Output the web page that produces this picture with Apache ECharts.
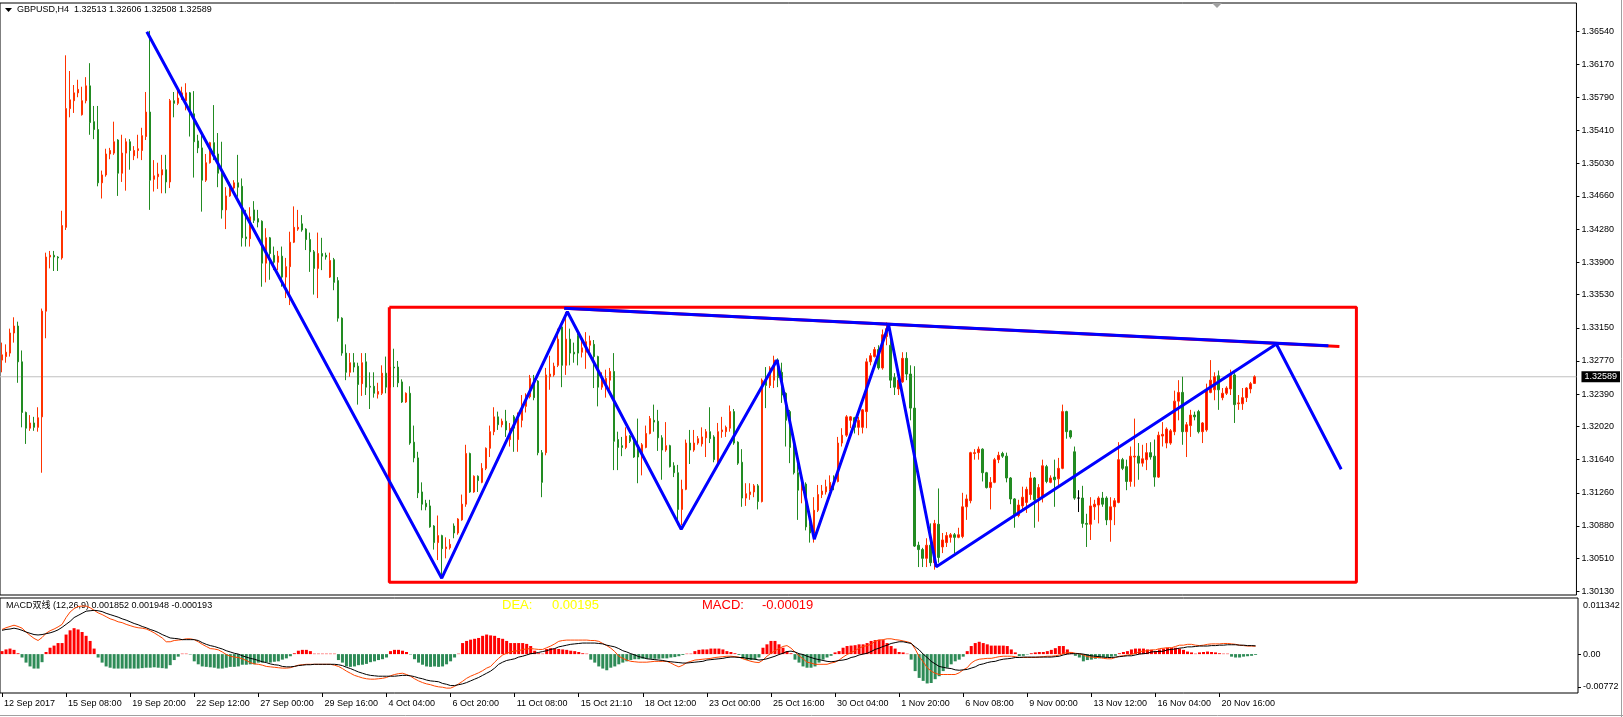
<!DOCTYPE html>
<html><head><meta charset="utf-8">
<script src="https://cdn.jsdelivr.net/npm/echarts@6/dist/echarts.min.js"></script>
<style>html,body{margin:0;padding:0;background:#fff}#c{width:1623px;height:717px}</style>
</head><body><div id="c"></div>
<script>
// ---------- DATA ----------
const symbol = 'GBPUSD,H4';
const openP = [
1.3278,1.3282,1.3286,1.3309,1.3317,1.3276,1.3218,1.3200,1.3206,1.3201,
1.3213,1.3334,1.3396,1.3398,1.3396,1.3395,1.3430,1.3566,1.3575,1.3584,
1.3559,1.3575,1.3592,1.3551,1.3542,1.3481,1.3490,1.3514,1.3515,1.3530,
1.3492,1.3515,1.3528,1.3512,1.3518,1.3518,1.3534,1.3562,1.3485,1.3488,
1.3490,1.3496,1.3482,1.3575,1.3572,1.3578,1.3575,1.3584,1.3560,1.3529,
1.3521,1.3484,1.3504,1.3527,1.3514,1.3492,1.3450,1.3466,1.3475,1.3481,
1.3477,1.3419,1.3417,1.3450,1.3440,1.3437,1.3389,1.3418,1.3398,1.3390,
1.3397,1.3373,1.3385,1.3413,1.3428,1.3434,1.3428,1.3416,1.3402,1.3383,
1.3400,1.3398,1.3373,1.3393,1.3369,1.3326,1.3286,1.3264,1.3275,1.3271,
1.3251,1.3276,1.3248,1.3248,1.3239,1.3240,1.3263,1.3247,1.3270,1.3270,
1.3253,1.3230,1.3240,1.3184,1.3166,1.3127,1.3114,1.3111,1.3088,1.3069,
1.3077,1.3062,1.3063,1.3088,1.3080,1.3095,1.3113,1.3171,1.3127,1.3145,
1.3138,1.3154,1.3177,1.3196,1.3213,1.3204,1.3208,1.3187,1.3213,1.3187,
1.3209,1.3225,1.3236,1.3257,1.3254,1.3172,1.3172,1.3259,1.3261,1.3272,
1.3316,1.3272,1.3302,1.3287,1.3306,1.3287,1.3287,1.3295,1.3296,1.3282,
1.3247,1.3247,1.3255,1.3265,1.3187,1.3180,1.3178,1.3191,1.3185,1.3178,
1.3167,1.3178,1.3194,1.3209,1.3208,1.3189,1.3175,1.3180,1.3157,1.3149,
1.3107,1.3130,1.3183,1.3175,1.3183,1.3182,1.3189,1.3196,1.3190,1.3161,
1.3196,1.3196,1.3200,1.3219,1.3184,1.3161,1.3120,1.3124,1.3127,1.3134,
1.3116,1.3255,1.3249,1.3255,1.3278,1.3264,1.3240,1.3219,1.3187,1.3149,
1.3129,1.3136,1.3087,1.3080,1.3106,1.3124,1.3127,1.3130,1.3144,1.3139,
1.3183,1.3192,1.3209,1.3212,1.3201,1.3201,1.3219,1.3276,1.3282,1.3290,
1.3269,1.3305,1.3295,1.3258,1.3245,1.3253,1.3280,1.3262,1.3223,1.3066,
1.3061,1.3051,1.3066,1.3046,1.3090,1.3064,1.3069,1.3075,1.3078,1.3075,
1.3076,1.3110,1.3117,1.3171,1.3172,1.3176,1.3149,1.3132,1.3138,1.3164,
1.3171,1.3168,1.3143,1.3119,1.3100,1.3111,1.3115,1.3124,1.3143,1.3120,
1.3121,1.3156,1.3138,1.3144,1.3142,1.3154,1.3219,1.3197,1.3173,1.3120,
1.3120,1.3091,1.3090,1.3110,1.3112,1.3120,1.3120,1.3095,1.3110,1.3115,
1.3164,1.3156,1.3139,1.3167,1.3168,1.3160,1.3164,1.3172,1.3168,1.3144,
1.3191,1.3183,1.3183,1.3196,1.3231,1.3241,1.3196,1.3203,1.3215,1.3219,
1.3196,1.3198,1.3241,1.3244,1.3260,1.3235,1.3240,1.3245,1.3261,1.3228,
1.3228,1.3235,1.3245,1.32513];
const highP = [
1.3298,1.3296,1.3314,1.3327,1.3322,1.3289,1.3219,1.3215,1.3213,1.3224,
1.3337,1.3401,1.3403,1.3403,1.3397,1.3449,1.3627,1.3609,1.3593,1.3599,
1.3591,1.3602,1.3618,1.3569,1.3569,1.3495,1.3520,1.3521,1.3551,1.3531,
1.3536,1.3532,1.3531,1.3523,1.3536,1.3544,1.3585,1.3655,1.3507,1.3504,
1.3513,1.3513,1.3577,1.3585,1.3587,1.3591,1.3595,1.3585,1.3586,1.3536,
1.3537,1.3514,1.3528,1.3570,1.3538,1.3528,1.3476,1.3482,1.3484,1.3513,
1.3486,1.3450,1.3453,1.3460,1.3450,1.3438,1.3429,1.3419,1.3408,1.3403,
1.3408,1.3395,1.3425,1.3454,1.3450,1.3444,1.3429,1.3424,1.3404,1.3424,
1.3418,1.3401,1.3401,1.3395,1.3373,1.3327,1.3296,1.3286,1.3286,1.3275,
1.3286,1.3286,1.3264,1.3264,1.3252,1.3272,1.3282,1.3286,1.3291,1.3277,
1.3256,1.3241,1.3248,1.3203,1.3173,1.3138,1.3118,1.3118,1.3089,1.3100,
1.3078,1.3075,1.3073,1.3091,1.3097,1.3124,1.3181,1.3172,1.3146,1.3146,
1.3160,1.3178,1.3203,1.3224,1.3219,1.3211,1.3221,1.3206,1.3215,1.3218,
1.3238,1.3240,1.3261,1.3261,1.3255,1.3175,1.3269,1.3283,1.3275,1.3314,
1.3322,1.3333,1.3314,1.3298,1.3309,1.3302,1.3310,1.3306,1.3301,1.3283,
1.3264,1.3267,1.3269,1.3286,1.3196,1.3190,1.3201,1.3192,1.3187,1.3211,
1.3183,1.3203,1.3214,1.3227,1.3221,1.3192,1.3207,1.3181,1.3161,1.3158,
1.3141,1.3187,1.3198,1.3198,1.3191,1.3201,1.3199,1.3224,1.3192,1.3206,
1.3213,1.3203,1.3226,1.3222,1.3185,1.3176,1.3137,1.3137,1.3136,1.3136,
1.3257,1.3270,1.3271,1.3283,1.3280,1.3275,1.3241,1.3221,1.3189,1.3170,
1.3141,1.3138,1.3093,1.3121,1.3135,1.3135,1.3141,1.3146,1.3146,1.3190,
1.3200,1.3215,1.3214,1.3213,1.3213,1.3222,1.3280,1.3286,1.3293,1.3295,
1.3313,1.3321,1.3304,1.3263,1.3259,1.3287,1.3287,1.3272,1.3271,1.3070,
1.3063,1.3074,1.3091,1.3095,1.3131,1.3080,1.3081,1.3080,1.3080,1.3086,
1.3126,1.3124,1.3173,1.3176,1.3179,1.3177,1.3150,1.3144,1.3166,1.3173,
1.3173,1.3172,1.3144,1.3120,1.3118,1.3133,1.3133,1.3150,1.3144,1.3136,
1.3164,1.3158,1.3146,1.3164,1.3166,1.3227,1.3220,1.3198,1.3179,1.3129,
1.3134,1.3102,1.3121,1.3118,1.3122,1.3127,1.3122,1.3121,1.3120,1.3184,
1.3166,1.3164,1.3179,1.3211,1.3183,1.3181,1.3183,1.3184,1.3187,1.3196,
1.3207,1.3201,1.3199,1.3243,1.3255,1.3259,1.3207,1.3221,1.3219,1.3221,
1.3207,1.3251,1.3278,1.3264,1.3266,1.3246,1.3248,1.3267,1.3263,1.3238,
1.3246,1.3247,1.3253,1.32606];
const lowP = [
1.3264,1.3275,1.3282,1.3298,1.3252,1.3201,1.3182,1.3197,1.3197,1.3196,
1.3149,1.3303,1.3383,1.3380,1.3380,1.3393,1.3427,1.3556,1.3561,1.3579,
1.3558,1.3572,1.3536,1.3531,1.3477,1.3463,1.3488,1.3508,1.3513,1.3466,
1.3482,1.3472,1.3496,1.3507,1.3509,1.3507,1.3530,1.3450,1.3471,1.3474,
1.3469,1.3469,1.3475,1.3556,1.3570,1.3576,1.3564,1.3534,1.3487,1.3515,
1.3448,1.3482,1.3503,1.3507,1.3476,1.3440,1.3428,1.3465,1.3473,1.3465,
1.3408,1.3408,1.3408,1.3435,1.3430,1.3362,1.3367,1.3370,1.3381,1.3381,
1.3362,1.3349,1.3341,1.3412,1.3426,1.3425,1.3404,1.3379,1.3353,1.3349,
1.3381,1.3393,1.3372,1.3358,1.3322,1.3283,1.3255,1.3259,1.3264,1.3227,
1.3237,1.3238,1.3222,1.3235,1.3234,1.3238,1.3240,1.3246,1.3247,1.3247,
1.3229,1.3229,1.3181,1.3161,1.3120,1.3106,1.3106,1.3086,1.3061,1.3049,
1.3029,1.3051,1.3061,1.3074,1.3078,1.3094,1.3110,1.3126,1.3126,1.3127,
1.3137,1.3152,1.3167,1.3192,1.3198,1.3201,1.3190,1.3179,1.3173,1.3173,
1.3201,1.3218,1.3234,1.3232,1.3169,1.3121,1.3169,1.3244,1.3259,1.3270,
1.3247,1.3261,1.3272,1.3275,1.3272,1.3281,1.3268,1.3287,1.3246,1.3225,
1.3244,1.3235,1.3244,1.3152,1.3152,1.3168,1.3176,1.3183,1.3166,1.3137,
1.3146,1.3177,1.3193,1.3196,1.3174,1.3141,1.3173,1.3155,1.3144,1.3089,
1.3089,1.3129,1.3159,1.3173,1.3181,1.3179,1.3167,1.3183,1.3161,1.3160,
1.3189,1.3190,1.3196,1.3181,1.3158,1.3110,1.3111,1.3118,1.3121,1.3107,
1.3115,1.3223,1.3246,1.3246,1.3247,1.3229,1.3179,1.3160,1.3147,1.3095,
1.3114,1.3083,1.3069,1.3069,1.3104,1.3120,1.3124,1.3128,1.3129,1.3138,
1.3179,1.3190,1.3200,1.3194,1.3192,1.3194,1.3200,1.3272,1.3281,1.3267,
1.3267,1.3295,1.3246,1.3238,1.3238,1.3252,1.3255,1.3209,1.3064,1.3041,
1.3041,1.3041,1.3042,1.3038,1.3046,1.3057,1.3064,1.3069,1.3057,1.3074,
1.3074,1.3095,1.3114,1.3164,1.3164,1.3139,1.3131,1.3107,1.3137,1.3160,
1.3166,1.3138,1.3113,1.3086,1.3098,1.3106,1.3103,1.3118,1.3086,1.3093,
1.3115,1.3137,1.3137,1.3110,1.3132,1.3153,1.3188,1.3188,1.3118,1.3104,
1.3086,1.3064,1.3072,1.3095,1.3091,1.3110,1.3089,1.3070,1.3089,1.3114,
1.3152,1.3129,1.3133,1.3133,1.3141,1.3156,1.3152,1.3164,1.3133,1.3143,
1.3179,1.3177,1.3181,1.3192,1.3209,1.3181,1.3167,1.3190,1.3209,1.3194,
1.3183,1.3196,1.3240,1.3232,1.3221,1.3232,1.3238,1.3238,1.3206,1.3221,
1.3221,1.3230,1.3240,1.32508];
const closeP = [
1.3284,1.3287,1.3309,1.3317,1.3276,1.3218,1.3200,1.3206,1.3201,1.3212,
1.3334,1.3396,1.3398,1.3396,1.3395,1.3432,1.3566,1.3576,1.3584,1.3588,
1.3575,1.3592,1.3550,1.3542,1.3481,1.3490,1.3514,1.3518,1.3528,1.3492,
1.3515,1.3528,1.3518,1.3518,1.3520,1.3535,1.3562,1.3484,1.3489,1.3491,
1.3496,1.3482,1.3575,1.3572,1.3578,1.3584,1.3584,1.3560,1.3528,1.3521,
1.3484,1.3504,1.3527,1.3514,1.3492,1.3450,1.3466,1.3475,1.3481,1.3476,
1.3418,1.3417,1.3442,1.3438,1.3436,1.3389,1.3418,1.3400,1.3390,1.3397,
1.3373,1.3385,1.3413,1.3430,1.3430,1.3427,1.3416,1.3402,1.3383,1.3400,
1.3397,1.3396,1.3392,1.3367,1.3326,1.3286,1.3264,1.3275,1.3270,1.3250,
1.3275,1.3247,1.3247,1.3240,1.3242,1.3263,1.3247,1.3270,1.3269,1.3252,
1.3230,1.3240,1.3183,1.3166,1.3126,1.3113,1.3110,1.3087,1.3069,1.3077,
1.3062,1.3064,1.3067,1.3080,1.3096,1.3113,1.3171,1.3127,1.3145,1.3140,
1.3154,1.3177,1.3196,1.3213,1.3204,1.3208,1.3198,1.3200,1.3200,1.3211,
1.3227,1.3238,1.3257,1.3235,1.3172,1.3138,1.3261,1.3262,1.3271,1.3302,
1.3272,1.3302,1.3286,1.3285,1.3286,1.3292,1.3299,1.3300,1.3282,1.3247,
1.3258,1.3257,1.3265,1.3185,1.3178,1.3178,1.3191,1.3185,1.3167,1.3167,
1.3181,1.3194,1.3211,1.3207,1.3189,1.3175,1.3180,1.3156,1.3149,1.3107,
1.3130,1.3183,1.3175,1.3183,1.3188,1.3190,1.3196,1.3188,1.3164,1.3196,
1.3198,1.3201,1.3219,1.3183,1.3160,1.3120,1.3125,1.3127,1.3134,1.3116,
1.3255,1.3249,1.3269,1.3278,1.3258,1.3238,1.3209,1.3178,1.3149,1.3129,
1.3136,1.3087,1.3080,1.3106,1.3124,1.3128,1.3133,1.3138,1.3138,1.3183,
1.3192,1.3213,1.3213,1.3201,1.3209,1.3221,1.3276,1.3283,1.3290,1.3269,
1.3307,1.3314,1.3255,1.3247,1.3255,1.3280,1.3262,1.3223,1.3065,1.3061,
1.3051,1.3066,1.3046,1.3091,1.3052,1.3072,1.3077,1.3078,1.3075,1.3078,
1.3110,1.3119,1.3172,1.3172,1.3176,1.3149,1.3132,1.3138,1.3164,1.3169,
1.3168,1.3143,1.3119,1.3100,1.3112,1.3121,1.3130,1.3143,1.3118,1.3132,
1.3157,1.3139,1.3143,1.3141,1.3154,1.3219,1.3196,1.3190,1.3120,1.3120,
1.3091,1.3090,1.3111,1.3113,1.3120,1.3113,1.3095,1.3110,1.3117,1.3164,
1.3154,1.3139,1.3168,1.3168,1.3160,1.3165,1.3172,1.3167,1.3144,1.3192,
1.3193,1.3199,1.3197,1.3231,1.3241,1.3196,1.3204,1.3215,1.3213,1.3196,
1.3206,1.3244,1.3255,1.3259,1.3244,1.3240,1.3246,1.3261,1.3227,1.3229,
1.3235,1.3246,1.3251,1.32589];

const macdDif = [
0.0058,0.0062,0.0065,0.0068,0.0065,0.0061,0.0052,0.0044,0.0037,0.0032,
0.0039,0.0049,0.0055,0.0059,0.0064,0.0070,0.0086,0.0099,0.0107,0.0112,
0.0113,0.0113,0.0109,0.0103,0.0097,0.0093,0.0088,0.0083,0.0080,0.0076,
0.0074,0.0070,0.0067,0.0064,0.0062,0.0061,0.0059,0.0055,0.0050,0.0044,
0.0038,0.0029,0.0029,0.0032,0.0033,0.0034,0.0036,0.0036,0.0034,0.0029,
0.0023,0.0018,0.0013,0.0012,0.0010,0.0005,-0.0001,-0.0005,-0.0007,-0.0008,
-0.0011,-0.0015,-0.0020,-0.0023,-0.0024,-0.0026,-0.0029,-0.0030,-0.0031,-0.0032,
-0.0033,-0.0033,-0.0032,-0.0029,-0.0026,-0.0025,-0.0024,-0.0024,-0.0024,-0.0024,
-0.0024,-0.0024,-0.0024,-0.0026,-0.0029,-0.0034,-0.0040,-0.0045,-0.0050,-0.0053,
-0.0056,-0.0058,-0.0059,-0.0059,-0.0058,-0.0057,-0.0055,-0.0051,-0.0048,-0.0046,
-0.0045,-0.0048,-0.0052,-0.0058,-0.0063,-0.0067,-0.0070,-0.0072,-0.0075,-0.0077,
-0.0078,-0.0080,-0.0080,-0.0076,-0.0070,-0.0064,-0.0057,-0.0052,-0.0048,-0.0044,
-0.0039,-0.0033,-0.0029,-0.0019,-0.0010,-0.0002,0.0002,0.0005,0.0007,0.0008,
0.0011,0.0012,0.0013,0.0012,0.0011,0.0011,0.0015,0.0019,0.0024,0.0030,
0.0032,0.0033,0.0033,0.0033,0.0033,0.0033,0.0033,0.0032,0.0032,0.0030,
0.0025,0.0020,0.0014,0.0006,-0.0005,-0.0010,-0.0014,-0.0017,-0.0018,-0.0019,
-0.0019,-0.0019,-0.0018,-0.0017,-0.0017,-0.0017,-0.0017,-0.0021,-0.0026,-0.0030,
-0.0026,-0.0020,-0.0017,-0.0014,-0.0013,-0.0012,-0.0011,-0.0010,-0.0008,-0.0007,
-0.0006,-0.0005,-0.0005,-0.0006,-0.0007,-0.0011,-0.0014,-0.0017,-0.0019,-0.0020,
-0.0014,-0.0005,0.0002,0.0008,0.0013,0.0018,0.0020,0.0014,0.0005,-0.0004,
-0.0011,-0.0019,-0.0021,-0.0024,-0.0024,-0.0024,-0.0024,-0.0021,-0.0019,-0.0014,
-0.0007,-0.0001,0.0004,0.0008,0.0014,0.0018,0.0020,0.0023,0.0030,0.0033,
0.0034,0.0036,0.0036,0.0034,0.0033,0.0031,0.0029,0.0026,0.0012,-0.0006,
-0.0018,-0.0032,-0.0040,-0.0045,-0.0048,-0.0048,-0.0048,-0.0048,-0.0048,-0.0044,
-0.0037,-0.0032,-0.0021,-0.0015,-0.0012,-0.0011,-0.0010,-0.0010,-0.0008,-0.0006,
-0.0005,-0.0005,-0.0005,-0.0006,-0.0008,-0.0008,-0.0008,-0.0008,-0.0008,-0.0007,
-0.0006,-0.0005,-0.0005,-0.0004,-0.0002,0.0001,0.0004,0.0004,0.0002,0.0001,
-0.0002,-0.0006,-0.0007,-0.0008,-0.0008,-0.0010,-0.0011,-0.0011,-0.0008,-0.0005,
-0.0004,-0.0002,-0.0001,0.0002,0.0006,0.0007,0.0008,0.0010,0.0010,0.0013,
0.0014,0.0015,0.0015,0.0018,0.0021,0.0021,0.0023,0.0023,0.0021,0.0020,
0.0021,0.0023,0.0024,0.0024,0.0024,0.0025,0.0025,0.0024,0.0023,0.0021,
0.0020,0.0019,0.0019,0.001852];
const macdDea = [
0.0056,0.0058,0.0059,0.0061,0.0059,0.0056,0.0052,0.0049,0.0046,0.0045,
0.0046,0.0048,0.0050,0.0053,0.0057,0.0063,0.0070,0.0077,0.0086,0.0091,
0.0096,0.0101,0.0102,0.0103,0.0102,0.0100,0.0096,0.0093,0.0090,0.0087,
0.0083,0.0080,0.0076,0.0072,0.0069,0.0065,0.0062,0.0058,0.0055,0.0051,
0.0046,0.0042,0.0038,0.0037,0.0036,0.0034,0.0034,0.0034,0.0034,0.0032,
0.0027,0.0023,0.0020,0.0018,0.0015,0.0012,0.0008,0.0005,0.0002,0,
-0.0004,-0.0007,-0.0010,-0.0012,-0.0015,-0.0018,-0.0020,-0.0023,-0.0025,-0.0026,
-0.0029,-0.0030,-0.0030,-0.0029,-0.0027,-0.0026,-0.0025,-0.0025,-0.0024,-0.0024,
-0.0024,-0.0024,-0.0024,-0.0024,-0.0025,-0.0027,-0.0031,-0.0034,-0.0038,-0.0042,
-0.0045,-0.0048,-0.0050,-0.0051,-0.0052,-0.0052,-0.0052,-0.0052,-0.0052,-0.0051,
-0.0050,-0.0050,-0.0051,-0.0053,-0.0056,-0.0058,-0.0061,-0.0063,-0.0064,-0.0065,
-0.0069,-0.0071,-0.0074,-0.0074,-0.0072,-0.0070,-0.0067,-0.0063,-0.0059,-0.0055,
-0.0050,-0.0045,-0.0040,-0.0033,-0.0024,-0.0019,-0.0015,-0.0013,-0.0011,-0.0007,
-0.0005,-0.0002,0.0001,0.0002,0.0004,0.0006,0.0008,0.0011,0.0013,0.0017,
0.0019,0.0021,0.0023,0.0024,0.0025,0.0026,0.0026,0.0026,0.0026,0.0025,
0.0024,0.0021,0.0019,0.0017,0.0013,0.0008,0.0005,0.0001,-0.0002,-0.0006,
-0.0008,-0.0011,-0.0012,-0.0013,-0.0014,-0.0015,-0.0017,-0.0018,-0.0019,-0.0020,
-0.0021,-0.0021,-0.0020,-0.0019,-0.0018,-0.0017,-0.0014,-0.0013,-0.0012,-0.0011,
-0.0010,-0.0008,-0.0007,-0.0007,-0.0008,-0.0008,-0.0010,-0.0011,-0.0012,-0.0014,
-0.0013,-0.0011,-0.0008,-0.0005,-0.0001,0.0002,0.0006,0.0007,0.0005,0.0001,
-0.0001,-0.0005,-0.0008,-0.0011,-0.0013,-0.0015,-0.0017,-0.0018,-0.0017,-0.0015,
-0.0014,-0.0012,-0.0008,-0.0006,-0.0002,0,0.0002,0.0006,0.0011,0.0014,
0.0018,0.0021,0.0025,0.0027,0.0029,0.0029,0.0027,0.0025,0.0017,0.0010,
0,-0.0008,-0.0017,-0.0023,-0.0029,-0.0031,-0.0033,-0.0034,-0.0037,-0.0038,
-0.0037,-0.0036,-0.0033,-0.0030,-0.0025,-0.0023,-0.0020,-0.0018,-0.0017,-0.0014,
-0.0012,-0.0011,-0.0010,-0.0008,-0.0008,-0.0007,-0.0007,-0.0007,-0.0007,-0.0007,
-0.0007,-0.0007,-0.0007,-0.0006,-0.0005,-0.0002,0,0.0001,0.0001,0.0001,
0,-0.0002,-0.0004,-0.0005,-0.0006,-0.0007,-0.0008,-0.0008,-0.0007,-0.0006,
-0.0005,-0.0004,-0.0004,-0.0002,0,0.0001,0.0002,0.0005,0.0006,0.0006,
0.0007,0.0010,0.0011,0.0012,0.0014,0.0015,0.0017,0.0017,0.0018,0.0019,
0.0019,0.0019,0.0020,0.0020,0.0021,0.0021,0.0022,0.0022,0.0022,0.0021,
0.0021,0.0020,0.0020,0.001948];
const macdHist = [
0.0007,0.0011,0.0013,0.0010,0.0002,-0.0008,-0.0020,-0.0029,-0.0034,-0.0034,
-0.0019,0.0005,0.0015,0.0020,0.0026,0.0026,0.0046,0.0056,0.0061,0.0058,
0.0052,0.0043,0.0031,0.0013,-0.0008,-0.0020,-0.0029,-0.0032,-0.0034,-0.0034,
-0.0034,-0.0034,-0.0034,-0.0034,-0.0034,-0.0033,-0.0032,-0.0032,-0.0031,-0.0032,
-0.0033,-0.0034,-0.0026,-0.0014,-0.0006,0.0001,0.0001,-0.0001,-0.0017,-0.0024,
-0.0029,-0.0030,-0.0031,-0.0032,-0.0034,-0.0034,-0.0032,-0.0030,-0.0030,-0.0029,
-0.0025,-0.0025,-0.0024,-0.0024,-0.0020,-0.0020,-0.0019,-0.0020,-0.0018,-0.0017,
-0.0013,-0.0010,-0.0005,0.0002,0.0008,0.0010,0.0010,0.0007,0.0001,0.0001,
0.0001,0.0001,0.0001,0.0001,-0.0014,-0.0020,-0.0029,-0.0030,-0.0029,-0.0026,
-0.0025,-0.0023,-0.0019,-0.0017,-0.0014,-0.0012,-0.0008,0.0007,0.0010,0.0010,
0.0008,0.0005,-0.0001,-0.0012,-0.0020,-0.0025,-0.0029,-0.0030,-0.0029,-0.0030,
-0.0029,-0.0024,-0.0017,-0.0008,0.0001,0.0026,0.0031,0.0034,0.0036,0.0038,
0.0043,0.0046,0.0044,0.0043,0.0038,0.0036,0.0031,0.0026,0.0026,0.0026,
0.0026,0.0024,0.0019,0.0008,0.0002,0.0001,0.0012,0.0014,0.0013,0.0012,
0.0011,0.0010,0.0008,0.0007,0.0005,0.0002,0.0001,-0.0013,-0.0020,-0.0029,
-0.0034,-0.0038,-0.0032,-0.0029,-0.0024,-0.0020,-0.0017,-0.0014,-0.0012,-0.0012,
-0.0011,-0.0011,-0.0011,-0.0011,-0.0011,-0.0010,-0.0010,-0.0008,-0.0007,-0.0005,
-0.0002,0.0001,0.0001,0.0007,0.0010,0.0011,0.0011,0.0013,0.0013,0.0013,
0.0011,0.0007,0.0005,0.0002,-0.0002,-0.0011,-0.0014,-0.0014,-0.0013,-0.0008,
0.0015,0.0023,0.0031,0.0031,0.0023,0.0015,0.0007,0.0002,-0.0013,-0.0020,
-0.0029,-0.0032,-0.0032,-0.0029,-0.0020,-0.0013,-0.0008,-0.0004,0.0004,0.0007,
0.0015,0.0019,0.0020,0.0021,0.0023,0.0023,0.0026,0.0031,0.0033,0.0034,
0.0033,0.0026,0.0019,0.0013,0.0005,0.0004,0.0001,-0.0013,-0.0040,-0.0056,
-0.0063,-0.0069,-0.0068,-0.0059,-0.0052,-0.0040,-0.0032,-0.0024,-0.0017,-0.0013,
-0.0006,0.0007,0.0019,0.0026,0.0029,0.0026,0.0023,0.0020,0.0020,0.0020,
0.0020,0.0019,0.0011,0.0004,-0.0005,-0.0004,-0.0001,0.0002,0.0004,0.0005,
0.0005,0.0007,0.0010,0.0014,0.0019,0.0019,0.0011,0.0004,-0.0004,-0.0008,
-0.0017,-0.0014,-0.0013,-0.0011,-0.0010,-0.0008,-0.0007,-0.0006,-0.0004,0.0002,
0.0005,0.0007,0.0011,0.0013,0.0013,0.0013,0.0011,0.0010,0.0007,0.0011,
0.0013,0.0015,0.0015,0.0015,0.0013,0.0010,0.0006,0.0004,0.0001,0.0004,
0.0005,0.0006,0.0005,0.0004,0.0002,0.0001,0.0001,-0.0006,-0.0008,-0.0008,
-0.0006,-0.0005,-0.0004,-0.000193];

const priceTicks = [1.36540,1.36170,1.35790,1.35410,1.35030,1.34660,1.34280,1.33900,1.33530,
  1.33150,1.32770,1.32390,1.32020,1.31640,1.31260,1.30880,1.30510,1.30130];
const macdTicks = [0.011342, 0, -0.00772];
const macdTickText = ['0.011342', '0.00', '-0.00772'];
const timeLabels = ['12 Sep 2017','15 Sep 08:00','19 Sep 20:00','22 Sep 12:00','27 Sep 00:00',
  '29 Sep 16:00','4 Oct 04:00','6 Oct 20:00','11 Oct 08:00','15 Oct 21:10','18 Oct 12:00',
  '23 Oct 00:00','25 Oct 16:00','30 Oct 04:00','1 Nov 20:00','6 Nov 08:00','9 Nov 00:00',
  '13 Nov 12:00','16 Nov 04:00','20 Nov 16:00'];
const timeLabelBars = [0,16,32,48,64,80,96,112,128,144,160,176,192,208,224,240,256,272,288,304];

// hand-drawn objects (bar index, price)
const zigzagBar   = [36.2, 109.9, 141.3, 169.75, 193.7, 203.0, 221.6, 233.5, 318.5, 334.7];
const zigzagPrice = [1.3654, 1.30282, 1.33334, 1.30843, 1.32781, 1.30728, 1.33182, 1.30414, 1.32964, 1.31530];
const trendBlueBar = [140.5, 331.5], trendBluePrice = [1.33373, 1.32945];
const trendRedBar = [140.5, 334.25], trendRedPrice = [1.33373, 1.32936];
const boxBar = [96.8, 338.5], boxPrice = [1.33384, 1.30236];
const bidPrice = 1.32589;

// ---------- BUILD ----------
const N = closeP.length;
const SLOTS = N + 80; // bars plus empty chart shift area
const cats = Array.from({length: SLOTS}, (_, i) => String(i));
const labelAt = {};
timeLabelBars.forEach((b, k) => { labelAt[b] = timeLabels[k]; });
const candles = openP.map((o, i) => [o, closeP[i], lowP[i], highP[i]]);
const histData = macdHist.map(v => ({ value: v, itemStyle: { color: v >= 0 ? '#ff0000' : '#2e8b57' } }));
const FONT = '"Liberation Sans","DejaVu Sans","Noto Sans CJK SC",sans-serif';
const pair = (xs, ys) => xs.map((x, i) => [x, ys[i]]);
const boxPath = [[boxBar[0], boxPrice[0]], [boxBar[1], boxPrice[0]], [boxBar[1], boxPrice[1]],
                 [boxBar[0], boxPrice[1]], [boxBar[0], boxPrice[0]]];

const lastO = openP[N-1], lastH = highP[N-1], lastL = lowP[N-1], lastC = closeP[N-1];
const titleText = symbol + '  ' + [lastO, lastH, lastL, lastC].map(v => v.toFixed(5)).join(' ');
const macdText = 'MACD双线 (12,26,9) ' + macdDif[N-1].toFixed(6) + ' ' + macdDea[N-1].toFixed(6) + ' ' + macdHist[N-1].toFixed(6);

const chart = echarts.init(document.getElementById('c'));
chart.setOption({
  animation: false,
  backgroundColor: '#ffffff',
  textStyle: { fontFamily: FONT },
  grid: [
    { left: 0, top: 3, width: 1578, height: 592, show: true, borderColor: '#000', borderWidth: 1 },
    { left: 0, top: 598, width: 1578, height: 95, show: true, borderColor: '#000', borderWidth: 1 }
  ],
  xAxis: [
    { type: 'category', gridIndex: 0, data: cats, boundaryGap: true, show: false, position: 'bottom',
      axisLine: { onZero: false } },
    { type: 'category', gridIndex: 1, data: cats, boundaryGap: true, position: 'bottom',
      axisLine: { show: false, onZero: false },
      axisTick: { show: true, alignWithLabel: true, length: 4, lineStyle: { color: '#000' },
                  interval: (i) => labelAt[i] !== undefined },
      axisLabel: { interval: (i) => labelAt[i] !== undefined, formatter: (v, i) => labelAt[i] || '',
                   align: 'left', padding: [0, 0, 0, 2], margin: 6, fontSize: 9, color: '#000',
                   fontFamily: FONT, hideOverlap: false },
      splitLine: { show: false } },
    { type: 'value', gridIndex: 0, min: -0.5, max: SLOTS - 0.5, show: false, position: 'top',
      axisLine: { onZero: false } },
  ],
  yAxis: [
    { type: 'value', gridIndex: 0, position: 'right', min: 1.30090, max: 1.36869,
      axisLine: { show: false, onZero: false }, splitLine: { show: false },
      axisTick: { show: true, length: 3, customValues: priceTicks, lineStyle: { color: '#000' } },
      axisLabel: { customValues: priceTicks.concat([bidPrice]), margin: 5, fontSize: 9, color: '#000',
        fontFamily: FONT, hideOverlap: false,
        formatter: (v) => Math.abs(v - bidPrice) < 1e-9 ? '{cur|' + v.toFixed(5) + '}' : v.toFixed(5),
        rich: { cur: { backgroundColor: '#000', color: '#fff', fontSize: 9, fontFamily: FONT, padding: [1, 3, 1, 3] } } } },
    { type: 'value', gridIndex: 1, position: 'right', min: -0.00915, max: 0.0132,
      axisLine: { show: false, onZero: false }, splitLine: { show: false },
      axisTick: { show: true, length: 3, customValues: [0, -0.00772], lineStyle: { color: '#000' } },
      axisLabel: { customValues: macdTicks, margin: 5, fontSize: 9, color: '#000', fontFamily: FONT,
        hideOverlap: false,
        formatter: (v) => { const k = macdTicks.findIndex(t => Math.abs(t - v) < 1e-9); return k >= 0 ? macdTickText[k] : ''; } } }
  ],
  series: [
    { type: 'line', xAxisIndex: 2, yAxisIndex: 0, data: [[-0.5, bidPrice], [SLOTS - 0.5, bidPrice]],
      symbol: 'none', lineStyle: { color: '#c0c0c0', width: 1 }, silent: true, z: 1 },
    { type: 'candlestick', xAxisIndex: 0, yAxisIndex: 0, data: candles, barWidth: 2, z: 3,
      itemStyle: { color: '#ff0000', color0: '#228b22', borderColor: '#ff3300', borderColor0: '#228b22',
                   borderColorDoji: '#000000', borderWidth: 1 } },
    { type: 'line', xAxisIndex: 2, yAxisIndex: 0, data: boxPath, symbol: 'none',
      lineStyle: { color: '#ff0000', width: 3 }, silent: true, z: 5 },
    { type: 'line', xAxisIndex: 2, yAxisIndex: 0, data: pair(trendRedBar, trendRedPrice), symbol: 'none',
      lineStyle: { color: '#ff0000', width: 3 }, silent: true, z: 6 },
    { type: 'line', xAxisIndex: 2, yAxisIndex: 0, data: pair(trendBlueBar, trendBluePrice), symbol: 'none',
      lineStyle: { color: '#0000ff', width: 3 }, silent: true, z: 7 },
    { type: 'line', xAxisIndex: 2, yAxisIndex: 0, data: pair(zigzagBar, zigzagPrice), symbol: 'none',
      lineStyle: { color: '#0000ff', width: 3 }, silent: true, z: 7 },
    { type: 'bar', xAxisIndex: 1, yAxisIndex: 1, data: histData, barWidth: 3, silent: true, z: 2 },
    { type: 'line', xAxisIndex: 1, yAxisIndex: 1, data: macdDif, symbol: 'none',
      lineStyle: { color: '#ff4500', width: 1 }, silent: true, z: 3 },
    { type: 'line', xAxisIndex: 1, yAxisIndex: 1, data: macdDea, symbol: 'none',
      lineStyle: { color: '#000000', width: 1 }, silent: true, z: 4 }
  ],
  graphic: [
    { type: 'polygon', shape: { points: [[5, 8], [12, 8], [8.5, 12]] }, style: { fill: '#000' } },
    { type: 'text', left: 17, top: 5, style: { text: titleText, fontSize: 9, fontFamily: FONT, fill: '#000' } },
    { type: 'polygon', shape: { points: [[1212, 3], [1222, 3], [1217, 8]] }, style: { fill: '#a0a0a0' } },
    { type: 'text', left: 6, top: 601, style: { text: macdText, fontSize: 9, fontFamily: FONT, fill: '#000' } },
    { type: 'text', left: 502, top: 599, style: { text: 'DEA:', fontSize: 13, fontFamily: FONT, fill: '#ffff00' } },
    { type: 'text', left: 552, top: 599, style: { text: macdDea[N-1].toFixed(5), fontSize: 13, fontFamily: FONT, fill: '#ffff00' } },
    { type: 'text', left: 702, top: 599, style: { text: 'MACD:', fontSize: 13, fontFamily: FONT, fill: '#ff0000' } },
    { type: 'text', left: 762, top: 599, style: { text: macdHist[N-1].toFixed(5), fontSize: 13, fontFamily: FONT, fill: '#ff0000' } },
    { type: 'line', shape: { x1: 1621.5, y1: 0, x2: 1621.5, y2: 717 }, style: { stroke: '#a0a0a0', lineWidth: 1 } },
    { type: 'line', shape: { x1: 0, y1: 715.5, x2: 1623, y2: 715.5 }, style: { stroke: '#a0a0a0', lineWidth: 1 } }
  ]
});
</script>
</body></html>
